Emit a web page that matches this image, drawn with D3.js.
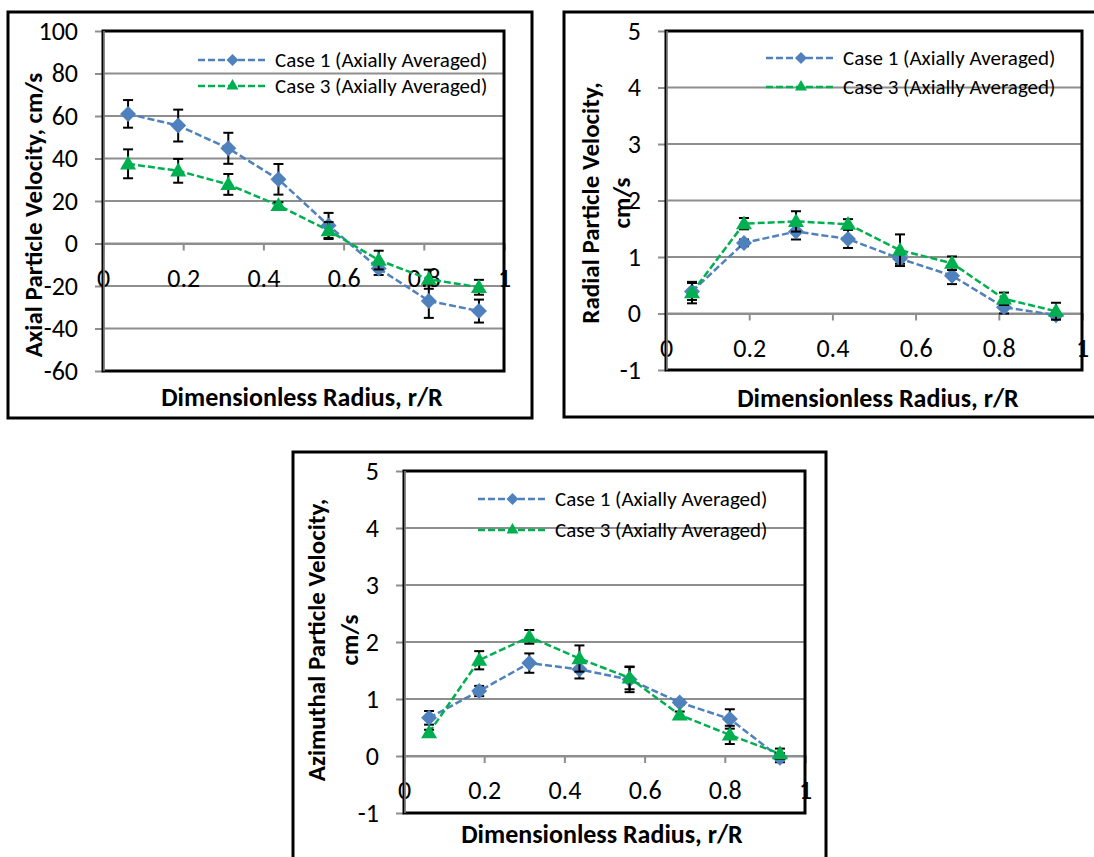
<!DOCTYPE html>
<html>
<head>
<meta charset="utf-8">
<script src="https://cdn.jsdelivr.net/npm/d3@7"></script>
<style>
  body { margin: 0; background: #fff; }
  svg text { font-family: Carlito, Calibri, Lato, sans-serif; fill: #000; }
</style>
</head>
<body>
<svg id="chart" width="1094" height="857"></svg>
<script>
// Dimensionless radius of the 8 measurement stations
const radius = [0.0625, 0.1875, 0.3125, 0.4375, 0.5625, 0.6875, 0.8125, 0.9375];
const seriesNames = ["Case 1 (Axially Averaged)", "Case 3 (Axially Averaged)"];

// Axial particle velocity, cm/s
const axialCase1 = [61.0, 55.5, 44.8, 30.2, 8.5, -11.8, -27.0, -31.8];
const axialCase1Err = [6.5, 7.5, 7.3, 7.2, 5.9, 3.0, 8.0, 5.4];
const axialCase3 = [37.5, 34.2, 27.8, 17.9, 6.1, -7.8, -16.8, -20.6];
const axialCase3Err = [6.8, 5.6, 4.9, 1.5, 4.0, 4.4, 4.5, 3.5];

// Radial particle velocity, cm/s
const radialCase1 = [0.39, 1.25, 1.45, 1.32, 0.97, 0.67, 0.11, -0.03];
const radialCase1Err = [0.15, 0.06, 0.14, 0.16, 0.09, 0.15, 0.11, 0.05];
const radialCase3 = [0.37, 1.59, 1.63, 1.58, 1.12, 0.89, 0.26, 0.04];
const radialCase3Err = [0.19, 0.1, 0.18, 0.09, 0.28, 0.12, 0.11, 0.15];

// Azimuthal particle velocity, cm/s
const azimCase1 = [0.67, 1.14, 1.63, 1.52, 1.34, 0.94, 0.65, -0.03];
const azimCase1Err = [0.12, 0.09, 0.17, 0.16, 0.22, 0.04, 0.17, 0.08];
const azimCase3 = [0.41, 1.68, 2.09, 1.71, 1.37, 0.72, 0.37, 0.04];
const azimCase3Err = [0.05, 0.16, 0.12, 0.23, 0.2, 0.06, 0.16, 0.09];

const xTicks = [0, 0.2, 0.4, 0.6, 0.8, 1];
const axialTicks = [-60, -40, -20, 0, 20, 40, 60, 80, 100];
const unitTicks = [-1, 0, 1, 2, 3, 4, 5];

const colors = ["#4F81BD", "#00B050"];

// layout of the three framed panels
const panels = [
  { frame: [8, 12, 524, 406], plot: { l: 103, r: 504, t: 31, b: 371 },
    yDomain: [-60, 100], yTicks: axialTicks,
    title: ["Axial Particle Velocity, cm/s"], titleX: [33], titleY: 215,
    xTitle: [302, 397], legend: { x1: 198, x2: 267, tx: 275, y: [60, 86] },
    series: [[axialCase1, axialCase1Err], [axialCase3, axialCase3Err]] },
  { frame: [564, 12, 540, 405], plot: { l: 666, r: 1082, t: 31, b: 370 },
    yDomain: [-1, 5], yTicks: unitTicks,
    title: ["Radial Particle Velocity,", "cm/s"], titleX: [590, 621], titleY: 203,
    xTitle: [878, 398], legend: { x1: 766, x2: 836, tx: 843, y: [58, 87] },
    series: [[radialCase1, radialCase1Err], [radialCase3, radialCase3Err]] },
  { frame: [293, 452, 533, 420], plot: { l: 404, r: 805, t: 471, b: 813 },
    yDomain: [-1, 5], yTicks: unitTicks,
    title: ["Azimuthal Particle Velocity,", "cm/s"], titleX: [316, 349], titleY: 640,
    xTitle: [602, 834], legend: { x1: 478, x2: 547, tx: 555, y: [499, 530] },
    series: [[azimCase1, azimCase1Err], [azimCase3, azimCase3Err]] }
];

const svg = d3.select("#chart");
const fmt = d => String(d);

// diamond for case 1, triangle for case 3; w is the marker width in px
function marker(sel, i, w) {
  if (i === 0) {
    const r = w / 2;
    sel.append("path").attr("d", d3.symbol(d3.symbolDiamond2, Math.pow(r / 0.62625, 2))())
      .attr("fill", colors[0]);
  } else {
    sel.append("path").attr("d", d3.symbol(d3.symbolTriangle, Math.sqrt(3) / 4 * w * w)())
      .attr("fill", colors[1]);
  }
}

panels.forEach(p => {
  const g = svg.append("g");
  const [fx, fy, fw, fh] = p.frame;
  g.append("rect").attr("x", fx).attr("y", fy).attr("width", fw).attr("height", fh)
    .attr("fill", "#fff").attr("stroke", "#000").attr("stroke-width", 3);

  const x = d3.scaleLinear().domain([0, 1]).range([p.plot.l, p.plot.r]);
  const y = d3.scaleLinear().domain(p.yDomain).range([p.plot.b, p.plot.t]);

  // gridlines
  g.selectAll(".grid").data(p.yTicks).enter().append("line")
    .attr("x1", p.plot.l).attr("x2", p.plot.r)
    .attr("y1", d => y(d)).attr("y2", d => y(d))
    .attr("stroke", "#8e8e8e").attr("stroke-width", 2);

  // y axis
  const yAxis = g.append("g").attr("transform", `translate(${p.plot.l},0)`)
    .call(d3.axisLeft(y).tickValues(p.yTicks).tickSize(8).tickPadding(17).tickFormat(fmt));
  yAxis.select(".domain").remove();
  yAxis.selectAll(".tick line").attr("stroke", "#8e8e8e").attr("stroke-width", 2);
  yAxis.selectAll(".tick text").style("font-size", "26px").attr("fill", "#000");

  // x axis crossing at zero
  const xAxis = g.append("g").attr("transform", `translate(0,${y(0)})`)
    .call(d3.axisBottom(x).tickValues(xTicks).tickSize(7).tickPadding(18).tickFormat(fmt));
  xAxis.select(".domain").attr("stroke", "#8e8e8e").attr("stroke-width", 2);
  xAxis.selectAll(".tick line").attr("stroke", "#8e8e8e").attr("stroke-width", 2);
  xAxis.selectAll(".tick text").style("font-size", "26px").attr("fill", "#000");

  // plot area border
  g.append("rect").attr("x", p.plot.l).attr("y", p.plot.t)
    .attr("width", p.plot.r - p.plot.l).attr("height", p.plot.b - p.plot.t)
    .attr("fill", "none").attr("stroke", "#000").attr("stroke-width", 3);
  g.append("line").attr("x1", p.plot.l + 1).attr("x2", p.plot.l + 1)
    .attr("y1", p.plot.t).attr("y2", p.plot.b).attr("stroke", "#8e8e8e").attr("stroke-width", 1.5);

  // series lines
  p.series.forEach(([vals, errs], si) => {
    const pts = radius.map((r, i) => ({ r, v: vals[i], e: errs[i] }));
    g.append("path").datum(pts)
      .attr("d", d3.line().x(d => x(d.r)).y(d => y(d.v)))
      .attr("fill", "none").attr("stroke", colors[si]).attr("stroke-width", 2.5)
      .attr("stroke-dasharray", "7,3");
  });
  // error bars and markers
  p.series.forEach(([vals, errs], si) => {
    const pts = radius.map((r, i) => ({ r, v: vals[i], e: errs[i] }));
    const eb = g.append("g");
    pts.forEach(d => {
      eb.append("line").attr("x1", x(d.r)).attr("x2", x(d.r))
        .attr("y1", y(d.v - d.e)).attr("y2", y(d.v + d.e))
        .attr("stroke", "#000").attr("stroke-width", 2);
      [d.v - d.e, d.v + d.e].forEach(v => {
        eb.append("line").attr("x1", x(d.r) - 5).attr("x2", x(d.r) + 5)
          .attr("y1", y(v)).attr("y2", y(v)).attr("stroke", "#000").attr("stroke-width", 2);
      });
    });
    pts.forEach(d => {
      const m = g.append("g").attr("transform", `translate(${x(d.r)},${y(d.v) + (si === 1 ? 1 : 0)})`);
      marker(m, si, 16);
    });
  });

  // legend
  const L = p.legend;
  seriesNames.forEach((name, si) => {
    const ly = L.y[si];
    g.append("line").attr("x1", L.x1).attr("x2", L.x2).attr("y1", ly).attr("y2", ly)
      .attr("stroke", colors[si]).attr("stroke-width", 2.5).attr("stroke-dasharray", "7,3");
    const m = g.append("g").attr("transform", `translate(${(L.x1 + L.x2) / 2},${ly})`);
    marker(m, si, 12);
    g.append("text").attr("x", L.tx).attr("y", ly).attr("dy", "0.35em")
      .style("font-size", "21px").text(name);
  });

  // axis titles
  p.title.forEach((t, i) => {
    g.append("text").attr("transform", `translate(${p.titleX[i]},${p.titleY}) rotate(-90)`)
      .attr("text-anchor", "middle").attr("dy", "0.35em")
      .style("font-size", "25px").style("font-weight", "bold").text(t);
  });
  g.append("text").attr("x", p.xTitle[0]).attr("y", p.xTitle[1]).attr("dy", "0.35em")
    .attr("text-anchor", "middle").style("font-size", "26px").style("font-weight", "bold")
    .text("Dimensionless Radius, r/R");
});
</script>
</body>
</html>
